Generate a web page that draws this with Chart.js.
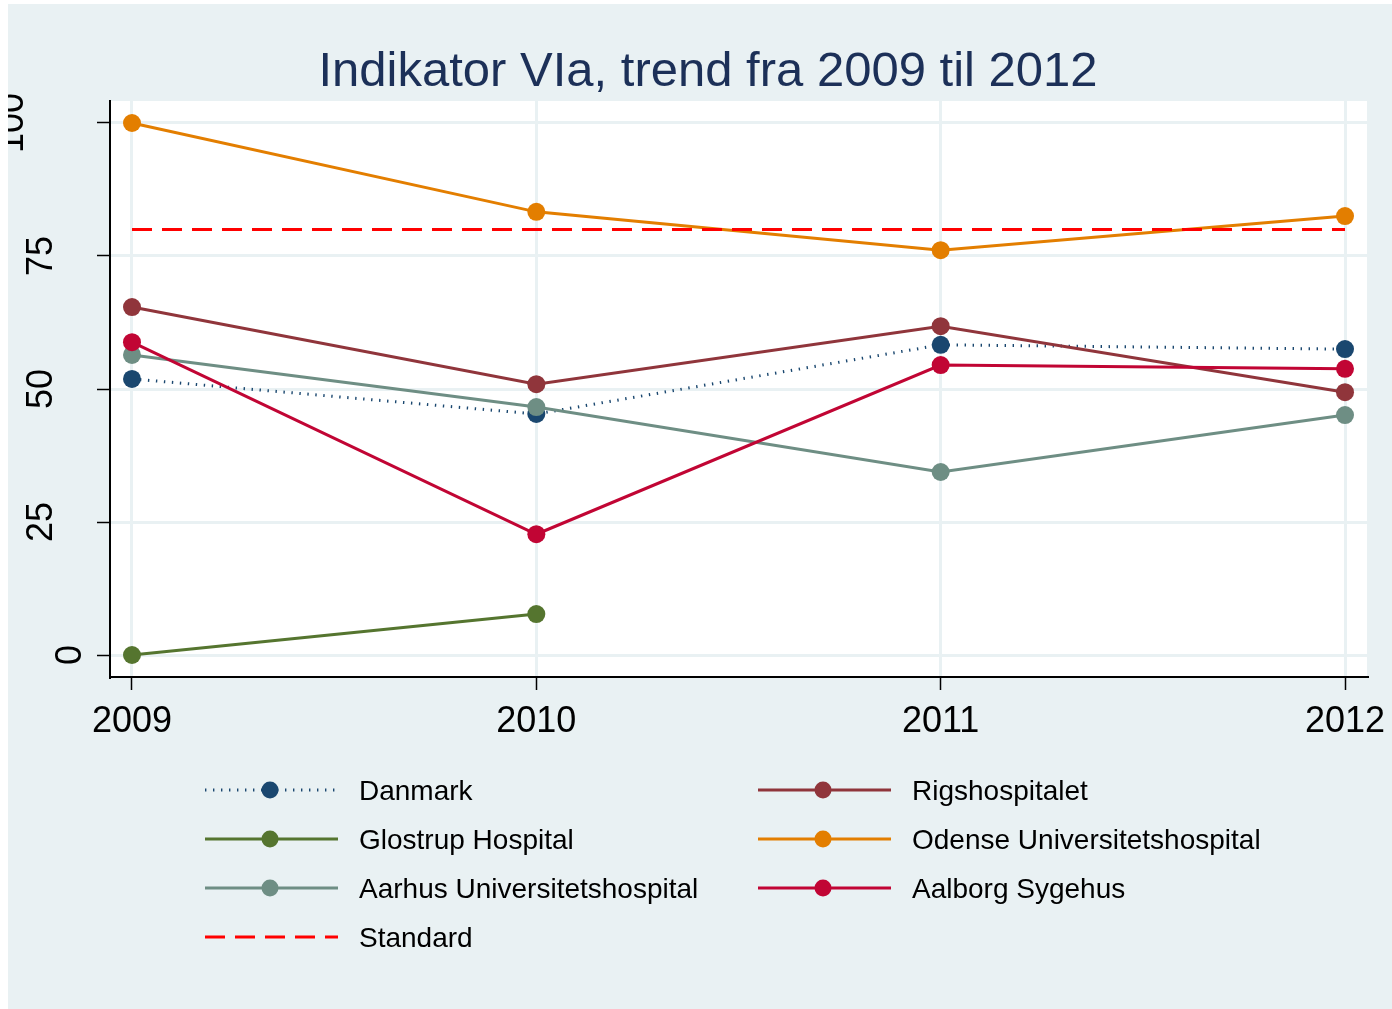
<!DOCTYPE html>
<html>
<head>
<meta charset="utf-8">
<script src="https://cdn.jsdelivr.net/npm/chart.js@4.4.1/dist/chart.umd.min.js"></script>
<style>
  html, body { margin: 0; padding: 0; background: #fff; }
  #wrap { width: 1392px; height: 1009px; }
</style>
</head>
<body>
<div id="wrap"><canvas id="trend" width="1392" height="1009"></canvas></div>
<script>
// Data
const years = [2009, 2010, 2011, 2012];
const danmark = [51.9, 45.3, 58.3, 57.5];
const rigshospitalet = [65.4, 50.9, 61.8, 49.4];
const glostrup = [0, 7.7, null, null];
const odense = [100, 83.3, 76.1, 82.5];
const aarhus = [56.4, 46.6, 34.4, 45.1];
const aalborg = [58.8, 22.7, 54.5, 53.8];
const standard = [80, 80, 80, 80];
const yTicks = [0, 25, 50, 75, 100];
const titleText = 'Indikator VIa, trend fra 2009 til 2012';

const BG = '#e9f1f3';
const FONT = '"Liberation Sans", Arial, sans-serif';

const toPoints = vals => years.map((x, i) => ({ x: x, y: vals[i] }));

function series(label, vals, color, extra) {
    return Object.assign({
        label: label,
        data: toPoints(vals),
        borderColor: color,
        backgroundColor: color,
        pointBackgroundColor: color,
        pointBorderWidth: 0,
        pointRadius: 9,
        borderWidth: 3,
        tension: 0,
        fill: false
    }, extra || {});
}

// legend order follows Stata's row-wise fill (two columns)
const datasets = [
    series('Danmark', danmark, '#1a476f', { borderDash: [1.4, 6.6] }),
    series('Rigshospitalet', rigshospitalet, '#90353b'),
    series('Glostrup Hospital', glostrup, '#55752f'),
    series('Odense Universitetshospital', odense, '#e37e00'),
    series('Aarhus Universitetshospital', aarhus, '#6e8e84'),
    series('Aalborg Sygehus', aalborg, '#c10534'),
    series('Standard', standard, '#ff0000', { borderDash: [20, 10], pointRadius: 0 })
];
// later series drawn on top, like Stata
datasets.forEach((d, i) => { d.order = datasets.length - i; });

const decor = {
    id: 'decor',
    beforeDraw(chart) {
        const { ctx, chartArea: a } = chart;
        ctx.save();
        ctx.fillStyle = '#fff';
        ctx.fillRect(0, 0, chart.width, chart.height);
        ctx.fillStyle = BG;
        ctx.fillRect(8, 4, chart.width - 8, chart.height - 4);
        ctx.fillStyle = '#fff';
        ctx.fillRect(a.left, a.top, a.right - a.left, a.bottom - a.top);
        ctx.restore();
    },
    afterDraw(chart) {
        const ctx = chart.ctx;
        const xs = chart.scales.x, ys = chart.scales.y;
        ctx.save();

        // title
        ctx.fillStyle = '#1c3058';
        ctx.font = '49px ' + FONT;
        ctx.textAlign = 'center';
        ctx.textBaseline = 'alphabetic';
        ctx.fillText(titleText, 708, 86);

        // x tick labels
        ctx.fillStyle = '#000';
        ctx.font = '36px ' + FONT;
        years.forEach(v => ctx.fillText(String(v), xs.getPixelForValue(v), 732));

        // y tick labels, rotated (clipped to the graph region)
        ctx.save();
        ctx.beginPath();
        ctx.rect(8, 4, chart.width - 8, chart.height - 4);
        ctx.clip();
        yTicks.forEach(v => {
            const s = String(v);
            const xb = 52 + (2 - s.length) * 29;
            ctx.save();
            ctx.translate(xb, ys.getPixelForValue(v));
            ctx.rotate(-Math.PI / 2);
            ctx.fillText(s, 0, 0);
            ctx.restore();
        });
        ctx.restore();

        // legend
        const colX = [205, 758];
        ctx.textAlign = 'left';
        ctx.font = '28px ' + FONT;
        chart.data.datasets.forEach((d, i) => {
            const x0 = colX[i % 2];
            const y = 790 + Math.floor(i / 2) * 49;
            ctx.save();
            ctx.strokeStyle = d.borderColor;
            ctx.lineWidth = 3;
            ctx.setLineDash(d.borderDash || []);
            ctx.beginPath();
            ctx.moveTo(x0, y);
            ctx.lineTo(x0 + 133, y);
            ctx.stroke();
            ctx.restore();
            if (d.pointRadius > 0) {
                ctx.fillStyle = d.borderColor;
                ctx.beginPath();
                ctx.arc(x0 + 65, y, 8.5, 0, Math.PI * 2);
                ctx.fill();
            }
            ctx.fillStyle = '#000';
            ctx.fillText(d.label, x0 + 154, y + 10);
        });
        ctx.restore();
    }
};

const gridOpts = {
    color: BG,
    lineWidth: 3,
    drawTicks: true,
    tickLength: 13,
    tickColor: '#000',
    tickWidth: 1.5
};

new Chart(document.getElementById('trend').getContext('2d'), {
    type: 'line',
    data: { datasets: datasets },
    options: {
        responsive: false,
        devicePixelRatio: 1,
        animation: false,
        layout: { padding: { left: 110, top: 101, right: 25, bottom: 332 } },
        plugins: {
            legend: { display: false },
            title: { display: false },
            tooltip: { enabled: false }
        },
        scales: {
            x: {
                type: 'linear',
                min: 2008.9456,
                max: 2012.0544,
                afterBuildTicks: s => { s.ticks = years.map(v => ({ value: v })); },
                afterFit: s => { s.height = 0; },
                ticks: { display: false },
                grid: gridOpts,
                border: { display: true, color: '#000', width: 2 }
            },
            y: {
                type: 'linear',
                min: -4.135,
                max: 104.135,
                afterBuildTicks: s => { s.ticks = yTicks.map(v => ({ value: v })); },
                afterFit: s => { s.width = 0; },
                ticks: { display: false },
                grid: gridOpts,
                border: { display: true, color: '#000', width: 2 }
            }
        }
    },
    plugins: [decor]
});
</script>
</body>
</html>
